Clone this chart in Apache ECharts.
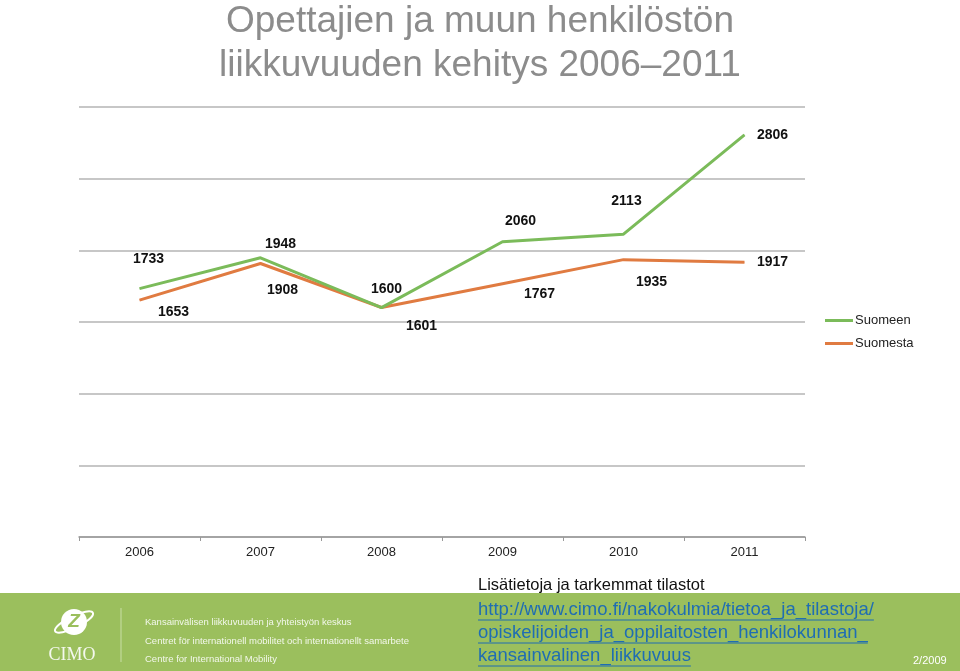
<!DOCTYPE html>
<html>
<head>
<meta charset="utf-8">
<script src="https://cdn.jsdelivr.net/npm/echarts@6/dist/echarts.min.js"></script>
<style>html,body{margin:0;padding:0;background:#fff;}#c{width:960px;height:671px;}</style>
</head>
<body>
<div id="c"></div>
<script>
var years = ['2006', '2007', '2008', '2009', '2010', '2011'];
var suomeen = [1733, 1948, 1600, 2060, 2113, 2806];
var suomesta = [1653, 1908, 1601, 1767, 1935, 1917];
var seriesNames = ['Suomeen', 'Suomesta'];
var titleLines = ['Opettajien ja muun henkilöstön', 'liikkuvuuden kehitys 2006–2011'];
var linkLines = ['http://www.cimo.fi/nakokulmia/tietoa_ja_tilastoja/', 'opiskelijoiden_ja_oppilaitosten_henkilokunnan_', 'kansainvalinen_liikkuvuus'];
var footerLines = ['Kansainvälisen liikkuvuuden ja yhteistyön keskus', 'Centret för internationell mobilitet och internationellt samarbete', 'Centre for International Mobility'];

var greenOffsets = [[9,-29],[20,-14],[5,-19],[18,-21],[3,-33],[28,0]];
var orangeOffsets = [[34,12],[22,27],[40,19],[37,10],[28,22],[28,0]];

function mk(vals, offs) {
  return vals.map(function (v, i) {
    return { value: v, label: { offset: offs[i] } };
  });
}

var chart = echarts.init(document.getElementById('c'));
var FONT = '"Liberation Sans", Arial, sans-serif';
var linkColor = '#1f6db3';
var linkFont = '18.5px ' + FONT;
function textW(t, font) {
  var el = new echarts.graphic.Text({ style: { text: t, font: font } });
  return el.getBoundingRect().width;
}
var graphics = [
  { type: 'rect', left: 0, top: 593, shape: { width: 960, height: 78 }, style: { fill: '#9bbf5d' }, z: 0 },
  { type: 'text', left: 478, top: 577, style: { text: 'Lisätietoja ja tarkemmat tilastot', fill: '#111', font: '16.5px ' + FONT } },
  { type: 'text', left: 913, top: 655, style: { text: '2/2009', fill: '#fff', font: '11px ' + FONT } },
  { type: 'line', shape: { x1: 121, y1: 608, x2: 121, y2: 662 }, style: { stroke: '#c8dea6', lineWidth: 1 } },
  { type: 'circle', shape: { cx: 74, cy: 622, r: 13 }, style: { fill: '#ffffff' } },
  { type: 'ellipse', shape: { cx: 74, cy: 622, rx: 21, ry: 6 }, rotation: 0.45, originX: 74, originY: 622, style: { fill: null, stroke: '#ffffff', lineWidth: 2 } },
  { type: 'text', x: 74, y: 622, style: { text: 'Z', fill: '#9bbf5d', font: 'italic bold 19px ' + FONT, align: 'center', verticalAlign: 'middle' } },
  { type: 'text', x: 72, y: 655, style: { text: 'CIMO', fill: '#f4f8ee', font: '18px "Liberation Serif", serif', align: 'center', verticalAlign: 'middle' } }
];
footerLines.forEach(function (t, i) {
  graphics.push({ type: 'text', left: 145, top: 617.5 + i * 18.5, style: { text: t, fill: '#f2f7ea', font: '9.5px ' + FONT } });
});
linkLines.forEach(function (t, i) {
  var yc = 610 + i * 23;
  graphics.push({ type: 'text', x: 478, y: yc, style: { text: t, fill: linkColor, font: linkFont, verticalAlign: 'middle' } });
  graphics.push({ type: 'line', shape: { x1: 478, y1: yc + 10, x2: 478 + textW(t, linkFont), y2: yc + 10 }, style: { stroke: linkColor, lineWidth: 1 } });
});

var labelStyle = { show: true, position: 'inside', color: '#111', fontSize: 14, fontWeight: 'bold', fontFamily: FONT };

chart.setOption({
  animation: false,
  backgroundColor: '#fff',
  title: {
    text: titleLines.join('\n'),
    left: 'center', top: -5,
    textStyle: { color: '#8c8c8c', fontSize: 37, fontWeight: 'normal', fontFamily: FONT, lineHeight: 44 }
  },
  legend: {
    orient: 'vertical', left: 825, top: 314, padding: 0, itemWidth: 28, itemHeight: 3, itemGap: 10,
    icon: 'rect',
    textStyle: { color: '#222', fontSize: 13, fontFamily: FONT, padding: [0, 0, 0, -3] },
    data: seriesNames
  },
  grid: { left: 79, right: 155, top: 107, bottom: 134 },
  xAxis: {
    type: 'category', data: years, boundaryGap: true,
    axisLine: { lineStyle: { color: '#999', width: 1.5 } },
    axisTick: { show: true, length: 4, lineStyle: { color: '#999' } },
    axisLabel: { color: '#222', fontSize: 13, fontFamily: FONT, margin: 9 }
  },
  yAxis: {
    type: 'value', min: 0, max: 3000, interval: 500,
    axisLabel: { show: false }, axisLine: { show: false }, axisTick: { show: false },
    splitLine: { lineStyle: { color: '#b5b5b5', width: 1.5 } }
  },
  series: [
    { name: seriesNames[0], type: 'line', data: mk(suomeen, greenOffsets), symbol: 'circle', symbolSize: 0.5, showSymbol: true,
      itemStyle: { color: '#7bbb5a' }, lineStyle: { color: '#7bbb5a', width: 3 }, label: labelStyle, z: 3 },
    { name: seriesNames[1], type: 'line', data: mk(suomesta, orangeOffsets), symbol: 'circle', symbolSize: 0.5, showSymbol: true,
      itemStyle: { color: '#e07b41' }, lineStyle: { color: '#e07b41', width: 3 }, label: labelStyle, z: 2 }
  ],
  graphic: graphics
});
</script>
</body>
</html>
